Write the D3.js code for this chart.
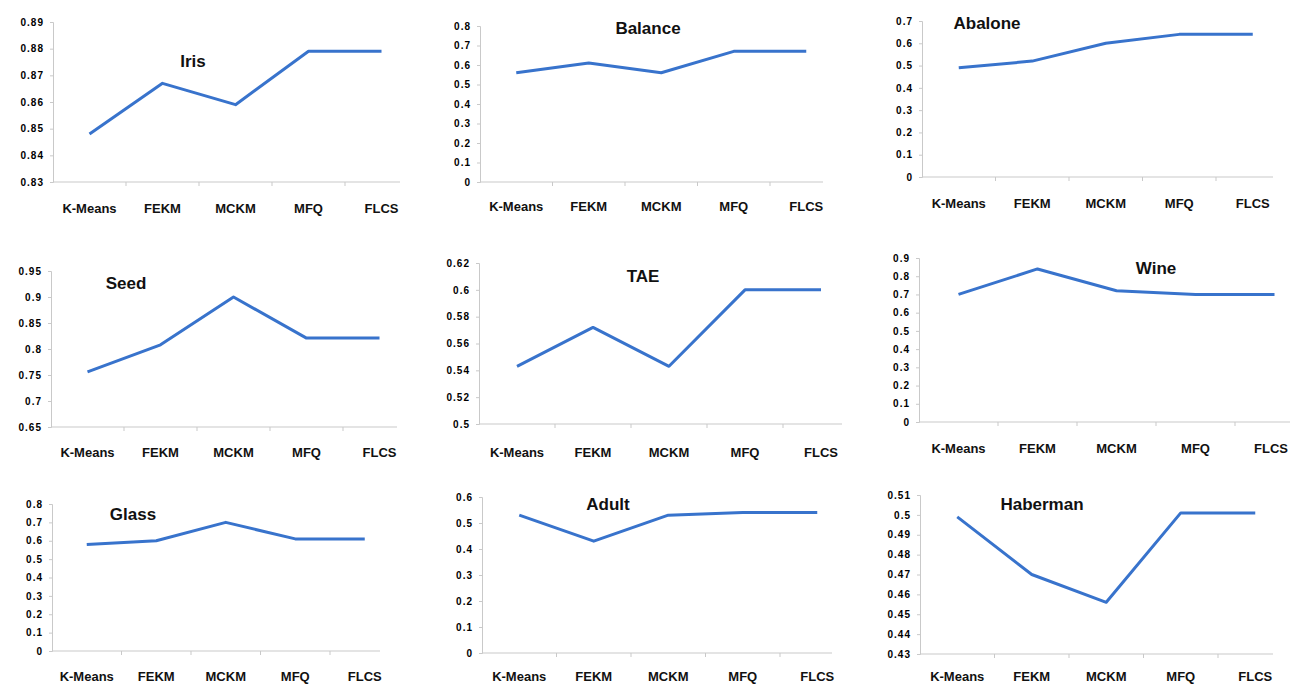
<!DOCTYPE html>
<html>
<head>
<meta charset="utf-8">
<script src="https://cdn.jsdelivr.net/npm/d3@7"></script>
<style>
  html, body { margin: 0; padding: 0; background: #fff; }
  svg { display: block; }
  .tick-label { font-family: "Liberation Sans", Arial, sans-serif; font-weight: bold; font-size: 10px; letter-spacing: 1px; fill: #000; }
  .cat-label { font-family: "Liberation Sans", Arial, sans-serif; font-weight: bold; font-size: 13px; fill: #111; }
  .title { font-family: "Liberation Sans", Arial, sans-serif; font-weight: bold; font-size: 17px; fill: #111; }
</style>
</head>
<body>
<svg id="chart" width="1290" height="688"></svg>
<script>
// Clustering methods compared on each dataset
const categories = ["K-Means", "FEKM", "MCKM", "MFQ", "FLCS"];

// Accuracy per method, one array per dataset
const iris     = [0.848, 0.867, 0.859, 0.879, 0.879];
const balance  = [0.56, 0.61, 0.56, 0.67, 0.67];
const abalone  = [0.49, 0.52, 0.60, 0.64, 0.64];
const seed     = [0.756, 0.808, 0.90, 0.821, 0.821];
const tae      = [0.543, 0.572, 0.543, 0.60, 0.60];
const wine     = [0.70, 0.84, 0.72, 0.70, 0.70];
const glass    = [0.58, 0.60, 0.70, 0.61, 0.61];
const adult    = [0.53, 0.43, 0.53, 0.54, 0.54];
const haberman = [0.499, 0.470, 0.456, 0.501, 0.501];

// Y-axis tick labels per dataset
const irisTicks     = [0.83, 0.84, 0.85, 0.86, 0.87, 0.88, 0.89];
const balanceTicks  = [0, 0.1, 0.2, 0.3, 0.4, 0.5, 0.6, 0.7, 0.8];
const abaloneTicks  = [0, 0.1, 0.2, 0.3, 0.4, 0.5, 0.6, 0.7];
const seedTicks     = [0.65, 0.7, 0.75, 0.8, 0.85, 0.9, 0.95];
const taeTicks      = [0.5, 0.52, 0.54, 0.56, 0.58, 0.6, 0.62];
const wineTicks     = [0, 0.1, 0.2, 0.3, 0.4, 0.5, 0.6, 0.7, 0.8, 0.9];
const glassTicks    = [0, 0.1, 0.2, 0.3, 0.4, 0.5, 0.6, 0.7, 0.8];
const adultTicks    = [0, 0.1, 0.2, 0.3, 0.4, 0.5, 0.6];
const habermanTicks = [0.43, 0.44, 0.45, 0.46, 0.47, 0.48, 0.49, 0.5, 0.51];

const titles = ["Iris", "Balance", "Abalone", "Seed", "TAE", "Wine", "Glass", "Adult", "Haberman"];
const seriesList = [iris, balance, abalone, seed, tae, wine, glass, adult, haberman];
const tickList = [irisTicks, balanceTicks, abaloneTicks, seedTicks, taeTicks, wineTicks, glassTicks, adultTicks, habermanTicks];

// Panel geometry: plot box, where the x-axis line stops, label row and title anchor
const layout = [
  { x0: 53,  step: 73,   yTop: 22,  yBot: 182, axisEnd: 400,  labelY: 210, tx: 193,  ty: 63 },
  { x0: 480, step: 72.5, yTop: 26,  yBot: 182, axisEnd: 823,  labelY: 208, tx: 648,  ty: 30 },
  { x0: 922, step: 73.5, yTop: 21,  yBot: 177, axisEnd: 1273, labelY: 205, tx: 987,  ty: 25 },
  { x0: 51,  step: 73,   yTop: 271, yBot: 427, axisEnd: 397,  labelY: 454, tx: 126,  ty: 285 },
  { x0: 479, step: 76,   yTop: 263, yBot: 424, axisEnd: 842,  labelY: 454, tx: 643,  ty: 278 },
  { x0: 919, step: 79,   yTop: 258, yBot: 422, axisEnd: 1290, labelY: 450, tx: 1156, ty: 270 },
  { x0: 52,  step: 69.5, yTop: 504, yBot: 651, axisEnd: 380,  labelY: 678, tx: 133,  ty: 516 },
  { x0: 482, step: 74.5, yTop: 497, yBot: 653, axisEnd: 832,  labelY: 678, tx: 608,  ty: 506 },
  { x0: 920, step: 74.5, yTop: 495, yBot: 654, axisEnd: 1273, labelY: 678, tx: 1042, ty: 506 }
];

const W = 1290;
const svg = d3.select("#chart");
const fmt = d3.format("~f");
const lineColor = "#3873cc";
const axisColor = "#c9c9c9";

seriesList.forEach((values, i) => {
  const L = layout[i];
  const ticks = tickList[i];
  const g = svg.append("g");

  const x = d3.scaleBand()
    .domain(categories)
    .range([L.x0, L.x0 + L.step * categories.length]);
  const y = d3.scaleLinear()
    .domain(d3.extent(ticks))
    .range([L.yBot, L.yTop]);

  // y axis
  const yAxis = d3.axisLeft(y).tickValues(ticks).tickFormat(fmt).tickSize(3).tickPadding(6);
  const ya = g.append("g").attr("transform", `translate(${L.x0},0)`).call(yAxis);
  ya.select(".domain").attr("stroke", axisColor);
  ya.selectAll(".tick line").attr("stroke", axisColor);
  ya.selectAll(".tick text").attr("class", "tick-label").attr("font-size", null).attr("font-family", null);

  // x axis line with category boundary ticks
  g.append("line")
    .attr("x1", L.x0).attr("x2", L.axisEnd)
    .attr("y1", L.yBot).attr("y2", L.yBot)
    .attr("stroke", axisColor).attr("stroke-width", 1);
  g.selectAll(".xtick")
    .data(categories.slice(1))
    .join("line")
    .attr("x1", d => x(d)).attr("x2", d => x(d))
    .attr("y1", L.yBot).attr("y2", L.yBot + 4)
    .attr("stroke", axisColor);

  // category labels, kept inside the canvas edge
  g.selectAll(".cat-label")
    .data(categories)
    .join("text")
    .attr("class", "cat-label")
    .attr("x", d => x(d) + x.bandwidth() / 2)
    .attr("y", L.labelY)
    .attr("text-anchor", "middle")
    .attr("dominant-baseline", "middle")
    .text(d => d)
    .each(function() {
      const t = d3.select(this);
      const half = this.getComputedTextLength() / 2;
      const cx = +t.attr("x");
      if (cx + half > W - 2) t.attr("x", W - 2 - half);
    });

  // series line
  const line = d3.line()
    .x((d, j) => x(categories[j]) + x.bandwidth() / 2)
    .y(d => y(d));
  g.append("path")
    .datum(values)
    .attr("d", line)
    .attr("fill", "none")
    .attr("stroke", lineColor)
    .attr("stroke-width", 3)
    .attr("stroke-linejoin", "round");

  // panel title
  g.append("text")
    .attr("class", "title")
    .attr("x", L.tx).attr("y", L.ty)
    .attr("text-anchor", "middle")
    .attr("dominant-baseline", "middle")
    .text(titles[i]);
});
</script>
</body>
</html>
